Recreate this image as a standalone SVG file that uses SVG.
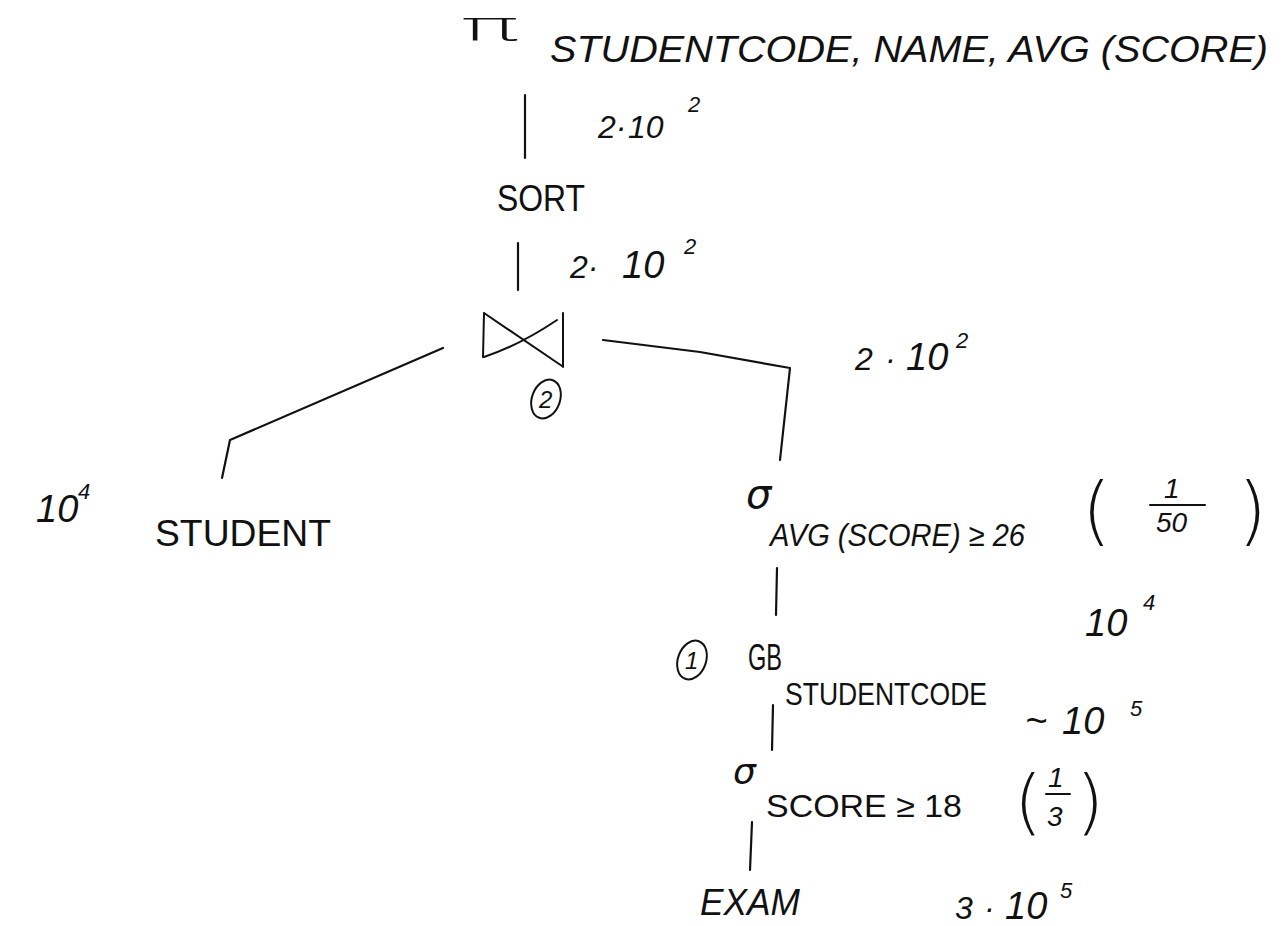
<svg xmlns="http://www.w3.org/2000/svg" width="1284" height="926" viewBox="0 0 1284 926">
  <style>
    text { font-family: "Liberation Sans", "DejaVu Sans", sans-serif; fill: #111; }
    .lbl { font-size: 36px; }
    .sub { font-size: 32px; }
    .num { font-size: 32px; font-style: italic; }
    .big { font-size: 38px; }
    .sm { font-size: 28px; }
    .sup { font-size: 22px; font-style: italic; }
    .sym { font-family: "DejaVu Sans", sans-serif; }
    .paren { font-family: "DejaVu Sans", sans-serif; font-weight: 200; }
    .edge { fill: none; stroke: #111; stroke-width: 2.2; stroke-linecap: round; stroke-linejoin: round; }
    .ink { fill: none; stroke: #111; stroke-width: 2; stroke-linecap: round; stroke-linejoin: round; }
  </style>
  <rect width="1284" height="926" fill="#fff"/>

  <!-- tree edges -->
  <g id="connectors">
    <path class="edge" d="M525 95 L525 158"/>
    <path class="edge" d="M518 243 L518 290"/>
    <path class="edge" d="M443 348 L230 440 L222 478"/>
    <path class="edge" d="M603 340 L700 352 L790 368 L780 460"/>
    <path class="edge" d="M777 568 L776 615"/>
    <path class="edge" d="M773 705 L772 750"/>
    <path class="edge" d="M752 822 L750 870"/>
  </g>

  <!-- projection -->
  <g id="projection">
    <text x="460" y="40" style="font-family:'DejaVu Sans',sans-serif;font-weight:200;font-size:40px" textLength="60" lengthAdjust="spacingAndGlyphs">π</text>
    <text class="lbl" x="550" y="62" textLength="718" lengthAdjust="spacingAndGlyphs" font-style="italic">STUDENTCODE, NAME, AVG (SCORE)</text>
    <text class="num" x="598" y="138">2·</text>
    <text class="num" x="628" y="138">10</text>
    <text class="sup" x="688" y="112">2</text>
  </g>

  <!-- sort -->
  <g id="sort">
    <text class="lbl" x="497" y="211" textLength="88" lengthAdjust="spacingAndGlyphs">SORT</text>
    <text class="num" x="570" y="278">2·</text>
    <text class="num big" x="622" y="278">10</text>
    <text class="sup" x="684" y="254">2</text>
  </g>

  <!-- join operator with its step mark -->
  <g id="join">
    <path class="ink" d="M484 313 L483 357 M484 313 L562 366 M484 357 Q520 345 557 320 M563 313 L563 367"/>
    <ellipse class="ink" cx="546" cy="399" rx="14" ry="20" transform="rotate(20 546 399)"/>
    <text x="539" y="408" font-size="24" font-style="italic">2</text>
    <text class="num" x="855" y="370">2</text>
    <text class="num" x="885" y="370">·</text>
    <text class="num big" x="906" y="370">10</text>
    <text class="sup" x="956" y="348">2</text>
  </g>

  <!-- student relation -->
  <g id="student">
    <text class="lbl" x="155" y="546" textLength="176" lengthAdjust="spacingAndGlyphs">STUDENT</text>
    <text class="num big" x="36" y="522">10</text>
    <text class="sup" x="78" y="499">4</text>
  </g>

  <!-- selection on aggregate -->
  <g id="select-avg">
    <text class="sym" x="746" y="508" font-size="40" font-style="italic">σ</text>
    <text class="sub" x="770" y="546" textLength="255" lengthAdjust="spacingAndGlyphs" font-style="italic">AVG (SCORE) ≥ 26</text>
    <text class="paren" x="1082" y="536" font-size="74">(</text>
    <text class="num sm" x="1164" y="498">1</text>
    <line class="ink" x1="1150" y1="505" x2="1205" y2="505"/>
    <text class="num sm" x="1156" y="532">50</text>
    <text class="paren" x="1238" y="536" font-size="74">)</text>
    <text class="num big" x="1085" y="636">10</text>
    <text class="sup" x="1143" y="610">4</text>
  </g>

  <!-- group by -->
  <g id="groupby">
    <ellipse class="ink" cx="692" cy="660" rx="14" ry="20" transform="rotate(20 692 660)"/>
    <text x="685" y="669" font-size="24" font-style="italic">1</text>
    <text class="lbl" x="748" y="670" textLength="34" lengthAdjust="spacingAndGlyphs">GB</text>
    <text class="sub" x="785" y="705" textLength="202" lengthAdjust="spacingAndGlyphs">STUDENTCODE</text>
    <text class="num big" x="1025" y="734">~</text>
    <text class="num big" x="1062" y="734">10</text>
    <text class="sup" x="1130" y="716">5</text>
  </g>

  <!-- selection on score -->
  <g id="select-score">
    <text class="sym" x="733" y="784" font-size="36" font-style="italic">σ</text>
    <text class="sub" x="766" y="817" textLength="196" lengthAdjust="spacingAndGlyphs">SCORE ≥ 18</text>
    <text class="paren" x="1014" y="826" font-size="72">(</text>
    <text class="num sm" x="1048" y="787">1</text>
    <line class="ink" x1="1046" y1="794" x2="1070" y2="794"/>
    <text class="num sm" x="1047" y="826">3</text>
    <text class="paren" x="1076" y="826" font-size="72">)</text>
  </g>

  <!-- exam relation -->
  <g id="exam">
    <text class="lbl" x="700" y="915" textLength="100" lengthAdjust="spacingAndGlyphs" font-style="italic">EXAM</text>
    <text class="num" x="955" y="919">3</text>
    <text class="num" x="984" y="919">·</text>
    <text class="num big" x="1005" y="919">10</text>
    <text class="sup" x="1060" y="898">5</text>
  </g>
</svg>
